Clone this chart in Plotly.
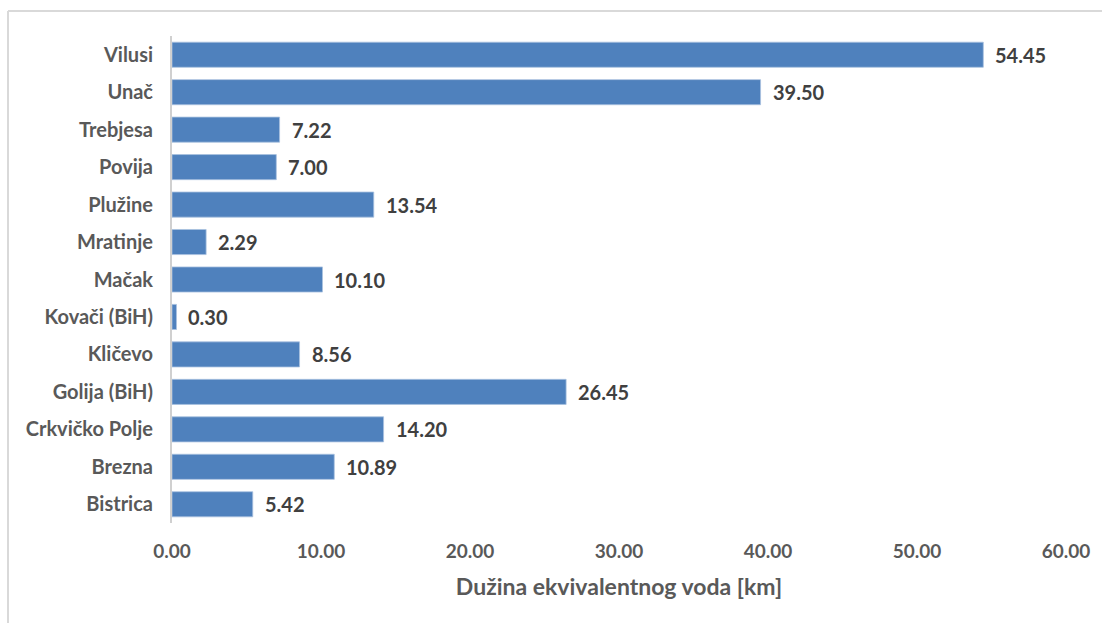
import plotly.graph_objects as go

categories = ["Vilusi", "Unač", "Trebjesa", "Povija", "Plužine", "Mratinje", "Mačak",
              "Kovači (BiH)", "Kličevo", "Golija (BiH)", "Crkvičko Polje", "Brezna", "Bistrica"]
values = [54.45, 39.50, 7.22, 7.00, 13.54, 2.29, 10.10, 0.30, 8.56, 26.45, 14.20, 10.89, 5.42]
x_ticks = [0, 10, 20, 30, 40, 50, 60]
x_title = "Dužina ekvivalentnog voda [km]"

FONT = "Lato"
bar_color = "#4F81BD"

fig = go.Figure()
fig.add_trace(go.Bar(
    y=categories, x=values, orientation="h",
    marker=dict(color=bar_color, line=dict(color="#a9c1e0", width=0.8)),
    hoverinfo="x+y",
))

annotations = []
for c, v in zip(categories, values):
    annotations.append(dict(
        x=v, y=c, xref="x", yref="y", text=f"{v:.2f}", showarrow=False,
        xanchor="left", yanchor="middle", xshift=10,
        font=dict(family=FONT, size=20, color="#404040", weight="bold"),
    ))

L, R, T, B = 172, 36, 36, 100
W, H = 1102, 623
pw, ph = W - L - R, H - T - B

def px2x(px):
    return (px - L) / pw

def py2y(py):
    return (H - B - py) / ph

shapes = [
    dict(type="line", xref="paper", yref="paper", x0=px2x(8), x1=px2x(W + 5),
         y0=py2y(11), y1=py2y(11), line=dict(color="#d9d9d9", width=2)),
    dict(type="line", xref="paper", yref="paper", x0=px2x(8), x1=px2x(8),
         y0=py2y(11), y1=py2y(H + 5), line=dict(color="#d9d9d9", width=2)),
]

fig.update_layout(
    width=W, height=H,
    margin=dict(l=L, r=R, t=T, b=B, pad=0),
    plot_bgcolor="white", paper_bgcolor="white",
    bargap=0.33,
    showlegend=False,
    annotations=annotations,
    shapes=shapes,
    font=dict(family=FONT, color="#595959"),
)
fig.update_xaxes(
    range=[0, 60], tickvals=x_ticks, ticktext=[f"{t:.2f}" for t in x_ticks],
    showgrid=False, zeroline=False, showline=False,
    ticks="outside", ticklen=11, tickcolor="rgba(0,0,0,0)",
    tickfont=dict(family=FONT, size=19, color="#595959", weight="bold"),
    title=dict(text=x_title, standoff=18,
               font=dict(family=FONT, size=23, color="#595959", weight="bold")),
)
fig.update_yaxes(
    autorange="reversed", showgrid=False, zeroline=False,
    showline=True, linecolor="#d0d0d0", linewidth=2,
    ticks="outside", ticklen=13, tickcolor="rgba(0,0,0,0)",
    tickfont=dict(family=FONT, size=20, color="#595959", weight="bold"),
)

fig.write_html("out.html", config={"displayModeBar": False},
               post_script="document.body.style.margin='0';")
